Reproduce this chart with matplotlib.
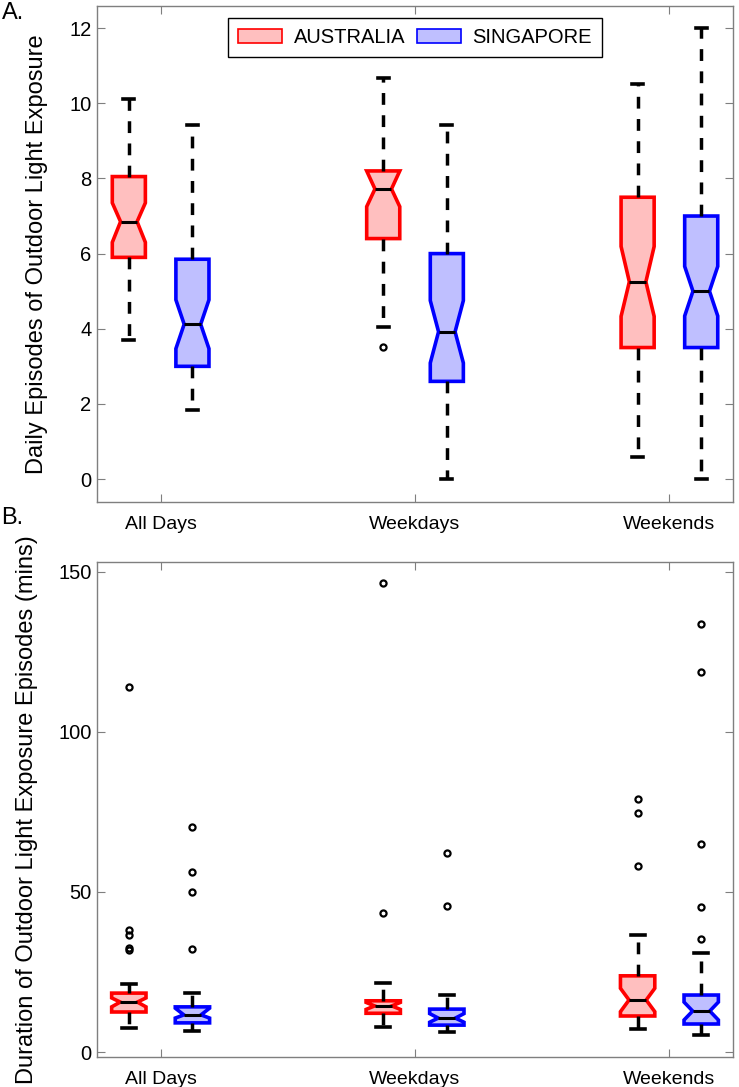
import matplotlib
matplotlib.use("Agg")
import matplotlib.pyplot as plt
from matplotlib.patches import Patch

plt.rcParams['font.family'] = ['Liberation Sans', 'DejaVu Sans']

# --- DATA ---
groups = ['All Days', 'Weekdays', 'Weekends']
countries = ['AUSTRALIA', 'SINGAPORE']

# Panel A: daily episodes of outdoor light exposure
au_a_whislo = [3.7, 4.05, 0.6]
au_a_q1 = [5.9, 6.4, 3.5]
au_a_cilo = [6.3, 7.25, 4.33]
au_a_med = [6.85, 7.72, 5.25]
au_a_cihi = [7.35, 8.2, 6.19]
au_a_q3 = [8.05, 8.2, 7.5]
au_a_whishi = [10.12, 10.68, 10.52]
au_a_fliers = [[], [3.52], []]

sg_a_whislo = [1.85, 0.0, 0.0]
sg_a_q1 = [3.0, 2.6, 3.5]
sg_a_cilo = [3.47, 3.09, 4.34]
sg_a_med = [4.12, 3.92, 5.0]
sg_a_cihi = [4.77, 4.75, 5.66]
sg_a_q3 = [5.85, 6.0, 7.0]
sg_a_whishi = [9.43, 9.41, 12.0]
sg_a_fliers = [[], [], []]

# Panel B: duration of outdoor light exposure episodes (mins)
au_b_whislo = [7.5, 7.8, 7.2]
au_b_q1 = [12.5, 12.1, 11.25]
au_b_cilo = [14.1, 13.3, 12.6]
au_b_med = [15.6, 14.4, 16.25]
au_b_cihi = [16.9, 15.5, 19.9]
au_b_q3 = [18.4, 16.0, 23.8]
au_b_whishi = [21.2, 21.5, 36.6]
au_b_fliers = [[31.8, 32.5, 36.5, 38.0, 114.0], [43.5, 146.5], [58.0, 74.6, 79.1]]

sg_b_whislo = [6.6, 6.3, 5.3]
sg_b_q1 = [9.1, 8.4, 8.75]
sg_b_cilo = [10.6, 9.3, 10.0]
sg_b_med = [11.6, 10.6, 12.8]
sg_b_cihi = [13.7, 12.0, 15.6]
sg_b_q3 = [14.1, 13.4, 17.8]
sg_b_whishi = [18.4, 17.8, 31.0]
sg_b_fliers = [[32.2, 50.0, 56.3, 70.3], [45.6, 62.2], [35.3, 45.3, 65.0, 118.8, 133.8]]

# --- STYLE ---
RED, PINK = '#ff0000', '#ffbfbf'
BLUE, LAVENDER = '#0000ff', '#bfbfff'
GRID_GREY = '#7f7f7f'


def make_stats(whislo, q1, cilo, med, cihi, q3, whishi, fliers):
    stats = []
    for i in range(len(med)):
        stats.append(dict(whislo=whislo[i], q1=q1[i], cilo=cilo[i], med=med[i],
                          cihi=cihi[i], q3=q3[i], whishi=whishi[i],
                          fliers=fliers[i]))
    return stats


def draw_boxes(ax, stats, positions, edge, face, capw, boxw):
    ax.bxp(stats, positions=positions, widths=boxw, capwidths=capw,
           shownotches=True, patch_artist=True,
           boxprops=dict(facecolor=face, edgecolor=edge, linewidth=2.6),
           medianprops=dict(color='black', linewidth=2.2),
           whiskerprops=dict(color='black', linewidth=2.5,
                             linestyle=(0, (3.4, 3.0))),
           capprops=dict(color='black', linewidth=2.6),
           flierprops=dict(marker='o', markersize=4.4, markeredgewidth=1.6,
                           markerfacecolor='none', markeredgecolor='black'))


def style_axes(ax, ymin, ymax, yticks):
    x = list(range(1, len(groups) + 1))
    ax.set_xlim(0.75, 3.25)
    ax.set_ylim(ymin, ymax)
    ax.set_xticks(x)
    ax.set_xticklabels(groups, fontsize=14)
    ax.set_yticks(yticks)
    ax.tick_params(axis='y', labelsize=14.5, direction='in', length=6,
                   right=True, color=GRID_GREY, pad=4)
    ax.tick_params(axis='x', direction='in', length=6, top=True,
                   color=GRID_GREY, pad=10)
    for s in ax.spines.values():
        s.set_color(GRID_GREY)
        s.set_linewidth(1.0)


fig = plt.figure(figsize=(7.39, 10.87), dpi=100)
ax_a = fig.add_axes([0.1313, 0.5382, 0.8606, 0.4563])
ax_b = fig.add_axes([0.1313, 0.0276, 0.8606, 0.4554])

pos = list(range(1, len(groups) + 1))
pos_au = [p - 0.125 for p in pos]
pos_sg = [p + 0.125 for p in pos]

# --- PANEL A ---
draw_boxes(ax_a, make_stats(au_a_whislo, au_a_q1, au_a_cilo, au_a_med, au_a_cihi,
                            au_a_q3, au_a_whishi, au_a_fliers),
           pos_au, RED, PINK, 0.043, 0.13)
draw_boxes(ax_a, make_stats(sg_a_whislo, sg_a_q1, sg_a_cilo, sg_a_med, sg_a_cihi,
                            sg_a_q3, sg_a_whishi, sg_a_fliers),
           pos_sg, BLUE, LAVENDER, 0.043, 0.13)
style_axes(ax_a, -0.61, 12.59, [0, 2, 4, 6, 8, 10, 12])
ax_a.set_ylabel('Daily Episodes of Outdoor Light Exposure', fontsize=17)
ax_a.yaxis.set_label_coords(-0.077, 0.5)

handles = [Patch(facecolor=PINK, edgecolor=RED, linewidth=1.2),
           Patch(facecolor=LAVENDER, edgecolor=BLUE, linewidth=1.2)]
leg = ax_a.legend(handles, countries, loc='upper center', ncol=2, fontsize=14.5,
                  fancybox=False, edgecolor='black', framealpha=1,
                  bbox_to_anchor=(0.5, 0.976), borderaxespad=0,
                  handlelength=2.2, handleheight=0.75, handletextpad=0.55,
                  columnspacing=0.6, borderpad=0.5)
leg.get_frame().set_linewidth(1.0)

# --- PANEL B ---
draw_boxes(ax_b, make_stats(au_b_whislo, au_b_q1, au_b_cilo, au_b_med, au_b_cihi,
                            au_b_q3, au_b_whishi, au_b_fliers),
           pos_au, RED, PINK, 0.055, 0.135)
draw_boxes(ax_b, make_stats(sg_b_whislo, sg_b_q1, sg_b_cilo, sg_b_med, sg_b_cihi,
                            sg_b_q3, sg_b_whishi, sg_b_fliers),
           pos_sg, BLUE, LAVENDER, 0.055, 0.135)
style_axes(ax_b, -1.56, 153.1, [0, 50, 100, 150])
ax_b.set_ylabel('Duration of Outdoor Light Exposure Episodes (mins)', fontsize=17)
ax_b.yaxis.set_label_coords(-0.093, 0.5)

fig.text(0.002, 0.998, 'A.', fontsize=17, va='top', ha='left')
fig.text(0.002, 0.534, 'B.', fontsize=17, va='top', ha='left')

fig.savefig('out.png', dpi=100)
